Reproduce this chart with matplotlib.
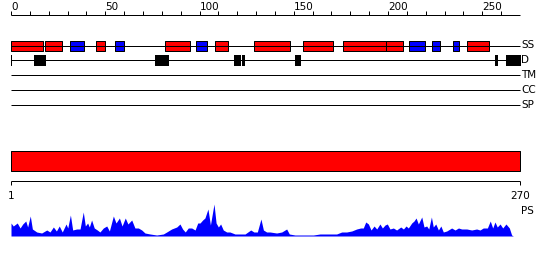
import matplotlib
matplotlib.use("Agg")
import matplotlib.pyplot as plt

# sequence length
seq_len = 270

# secondary structure segments (H = helix red, E = strand blue)
ss_start = [0, 18.3, 31.5, 44.9, 55.3, 81.6, 97.9, 108.2, 128.9, 155.0, 176.2, 198.9, 211.3, 223.4, 234.7, 241.7]
ss_end = [16.9, 26.9, 38.5, 49.8, 59.9, 95.0, 104.1, 115.3, 148.0, 170.6, 198.9, 207.8, 219.5, 227.5, 237.6, 253.6]
ss_type = ["H", "H", "E", "H", "E", "H", "E", "H", "H", "H", "H", "H", "E", "E", "E", "H"]

# disordered regions
d_start = [0, 12.4, 76.6, 118.3, 122.7, 150.7, 256.9, 262.8]
d_end = [0.7, 18.4, 83.8, 121.9, 124.0, 153.8, 258.4, 270.4]

# empty tracks
track_labels = ["TM", "CC", "SP"]

# domain bar
dom_start = 1
dom_end = 270

# PS profile (position, value)
ps_pos = [1.0, 2.2, 4.3, 5.8, 7.2, 8.8, 9.8, 11.2, 12.3, 14.6, 17.2, 19.9, 21.6, 23.4, 25.0,
          26.5, 28.1, 30.1, 31.0, 32.4, 33.6, 35.7, 37.5, 39.2, 40.3, 41.5, 42.4, 43.6, 45.0,
          46.6, 48.0, 49.8, 51.6, 53.0, 55.1, 56.5, 58.3, 59.7, 61.4, 62.8, 64.8, 66.5, 68.3,
          70.1, 71.8, 74.5, 78.0, 81.5, 83.3, 85.9, 88.6, 90.3, 91.7, 93.1, 94.7, 96.5, 98.3,
          99.7, 100.9, 102.3, 103.5, 105.1, 106.4, 108.3, 109.4, 110.6, 111.8, 113.2, 115.0,
          116.7, 119.4, 122.0, 124.7, 127.7, 129.4, 131.2, 133.1, 134.4, 136.1,
          137.9, 141.4, 144.1, 146.7, 148.1, 151.1, 155.5, 160.8, 164.3, 168.7, 173.1, 175.8,
          178.4, 181.1, 183.7, 185.8, 187.2, 188.5, 189.9, 191.3, 192.9, 194.3, 196.0, 197.3,
          198.7, 199.9, 201.3, 203.1, 204.8, 207.0, 208.4, 209.8, 211.0, 212.8, 214.0, 215.1,
          216.3, 218.1, 219.3, 220.7, 221.8, 223.2, 224.2, 225.5, 226.9, 228.2, 229.5, 231.3,
          233.9, 235.7, 237.5, 239.2, 241.9, 244.5, 247.1, 248.9, 250.6, 252.8, 254.3, 255.6,
          256.8, 258.0, 259.5, 260.9, 262.6, 264.4, 265.6, 266.5]
ps_val = [13, 10, 13, 8, 12, 15, 9, 20, 7, 4, 3, 6, 4, 9, 5,
          10, 4, 12, 8, 21, 6, 7, 7, 24, 10, 13, 9, 16, 8,
          6, 4, 8, 10, 5, 20, 13, 18, 10, 18, 12, 16, 8, 8,
          6, 3, 2, 1, 2, 4, 7, 9, 12, 7, 4, 8, 8, 6,
          13, 13, 16, 18, 27, 11, 32, 13, 9, 12, 6, 4,
          4, 2, 2, 2, 6, 4, 4, 17, 6, 4,
          4, 3, 4, 7, 2, 1, 1, 1, 2, 2, 2, 4,
          4, 5, 7, 8, 8, 14, 12, 6, 10, 7, 12, 8,
          11, 12, 7, 8, 6, 9, 7, 10, 8, 13, 15, 18,
          12, 19, 9, 10, 7, 19, 9, 12, 6, 10, 4, 5,
          8, 6, 8, 7, 7, 6, 7, 6, 8, 8, 15, 8,
          14, 9, 12, 8, 12, 8, 1, 0]

fig = plt.figure(figsize=(5.5, 2.6), dpi=100)
lw = 0.72
fs = 7.5

# top part: x in residues, y in pixel rows
ax = fig.add_axes([0, 0, 1, 1])
ax.set_xlim(-11 / 1.885, 539 / 1.885)
ax.set_ylim(260, 0)
ax.axis("off")

# ruler
ax.hlines(15, 0, seq_len, color="black", lw=lw)
for t in range(0, seq_len, 10):
    ax.vlines(t, 11, 15, color="black", lw=lw)
    if t % 50 == 0:
        ax.text(t, 10, str(t), ha="left", va="baseline", fontsize=fs)

# SS track
ax.hlines(45.5, 0, seq_len, color="black", lw=lw)
ss_colors = ["#ff0000" if t == "H" else "#0000ff" for t in ss_type]
ax.broken_barh([(s, e - s) for s, e in zip(ss_start, ss_end)], (40.5, 10),
               facecolors=ss_colors, edgecolor="black", lw=lw)
ax.text(seq_len + 0.5, 45.5, "SS", ha="left", va="center", fontsize=fs)

# disorder track
ax.hlines(60, 0, seq_len, color="black", lw=lw)
ax.broken_barh([(s, e - s) for s, e in zip(d_start, d_end)], (55, 10.5),
               facecolors="black", edgecolor="black", lw=0)
ax.text(seq_len + 0.5, 60, "D", ha="left", va="center", fontsize=fs)

for i, lab in enumerate(track_labels):
    y = 75 + 15 * i
    ax.hlines(y, 0, seq_len, color="black", lw=lw)
    ax.text(seq_len + 0.5, y, lab, ha="left", va="center", fontsize=fs)

# bottom part: 1..270 scale
ax2 = fig.add_axes([0, 0, 1, 1])
ax2.set_xlim(1 - 11 / 1.892, 1 + 539 / 1.892)
ax2.set_ylim(260, 0)
ax2.axis("off")
ax2.patch.set_alpha(0)

ax2.broken_barh([(dom_start, dom_end - dom_start)], (150.5, 20),
                facecolors="#ff0000", edgecolor="black", lw=lw)
ax2.hlines(180.5, dom_start, dom_end, color="black", lw=lw)
ax2.vlines([dom_start, dom_end], 180.5, 185, color="black", lw=lw)
ax2.text(dom_start, 196, str(dom_start), ha="center", va="center", fontsize=fs)
ax2.text(dom_end, 196, str(dom_end), ha="center", va="center", fontsize=fs)
ax2.text(dom_end + 0.8, 211, "PS", ha="left", va="center", fontsize=fs)

# profile
ax3 = fig.add_axes([0, 24 / 260, 1, 40 / 260])
ax3.set_xlim(1 - 11 / 1.892, 1 + 539 / 1.892)
ax3.set_ylim(0, 40)
ax3.axis("off")
ax3.patch.set_alpha(0)
ax3.fill_between(ps_pos, 0, ps_val, color="#0000ff", lw=0)
ax3.hlines(0.5, dom_start, 275, color="#0000ff", lw=lw)

fig.savefig("out.png", dpi=100)
